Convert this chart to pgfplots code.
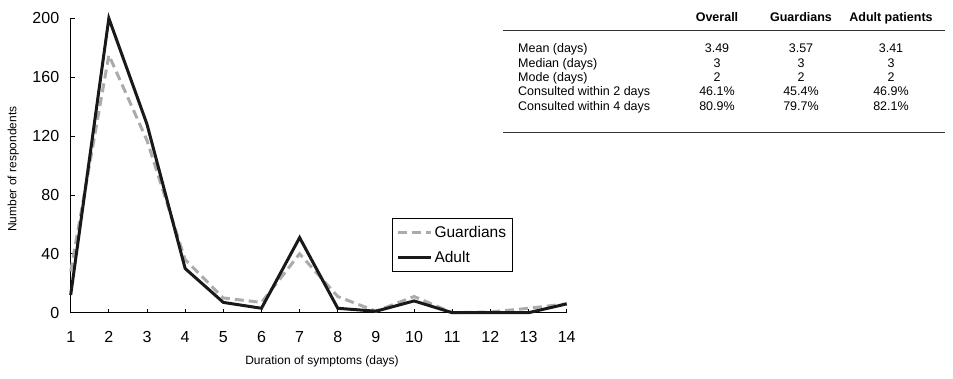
\documentclass[border=0pt]{standalone}
\usepackage{pgfplots}
\pgfplotsset{compat=1.18}
\usepackage{fontspec}
\setmainfont{Liberation Sans}
\begin{document}
\begin{tikzpicture}[x=1pt,y=1pt]
\useasboundingbox (0,0) rectangle (953,378);
\begin{axis}[
  at={(70.7pt,65.3pt)}, anchor=south west,
  scale only axis, width=496pt, height=294.4pt,
  xmin=1, xmax=14, ymin=0, ymax=200,
  xtick={1,...,14}, ytick={0,40,...,200},
  axis x line*=bottom, axis y line*=left,
  axis line style={-, line width=0.8pt, black},
  tick style={line width=0.8pt, black}, major tick length=4pt,
  tick label style={font=\fontsize{16}{19}\selectfont},
  /pgf/number format/assume math mode=true,
  xticklabel style={yshift=-15pt},
  yticklabel style={xshift=-8pt},
  xlabel={Duration of symptoms (days)},
  ylabel={Number of respondents},
  label style={font=\fontsize{12}{14}\selectfont},
  xlabel style={at={(axis description cs:0.5067,-0.1664)}, anchor=center},
  ylabel style={at={(axis description cs:-0.1157,0.488)}, anchor=center, rotate=0},
  clip=false,
  legend cell align=left,
  legend image code/.code={\draw[#1] (0pt,0pt) -- (33pt,0pt);},
  legend style={at={(0.648,0.3217)}, anchor=north west, draw=black, line width=0.8pt,
    font=\fontsize{15.5}{18}\selectfont, inner xsep=4pt, inner ysep=5.5pt,
    row sep=9pt},
]
\addplot[color=black!33, line width=3pt, dash pattern=on 9pt off 5pt] coordinates {
 (1,28) (2,175) (3,117) (4,36) (5,10) (6,7) (7,40) (8,11) (9,1) (10,11) (11,0) (12,0.5) (13,3) (14,6)};
\addlegendentry{Guardians}
\addplot[color=black!90, line width=3pt] coordinates {
 (1,12) (2,200) (3,128) (4,30) (5,7) (6,3) (7,51) (8,3) (9,1) (10,8) (11,0) (12,0) (13,0) (14,6)};
\addlegendentry{Adult}
\end{axis}
% summary table
\begin{scope}[every node/.style={font=\fontsize{12.5}{15}\selectfont, inner sep=0pt}]
\node[anchor=base, font=\fontsize{12.5}{15}\selectfont\bfseries] at (717,356.8) {Overall};
\node[anchor=base, font=\fontsize{12.5}{15}\selectfont\bfseries] at (801,356.8) {Guardians};
\node[anchor=base, font=\fontsize{12.5}{15}\selectfont\bfseries] at (891,356.8) {Adult patients};
\draw[line width=0.8pt, black!80] (503,348) -- (945,348);
\foreach \y/\lab/\a/\b/\c in {
  329.7/Mean (days)/3.49/3.57/3.41,
  315.3/Median (days)/3/3/3,
  300.7/Mode (days)/2/2/2,
  287/Consulted within 2 days/46.1\%/45.4\%/46.9\%,
  272.3/Consulted within 4 days/80.9\%/79.7\%/82.1\%}{
  \node[anchor=base west] at (518,\y-4.5) {\lab};
  \node[anchor=base] at (717,\y-4.5) {\a};
  \node[anchor=base] at (801,\y-4.5) {\b};
  \node[anchor=base] at (891,\y-4.5) {\c};
}
\draw[line width=0.8pt, black!80] (503,245.3) -- (945,245.3);
\end{scope}
\end{tikzpicture}
\end{document}
